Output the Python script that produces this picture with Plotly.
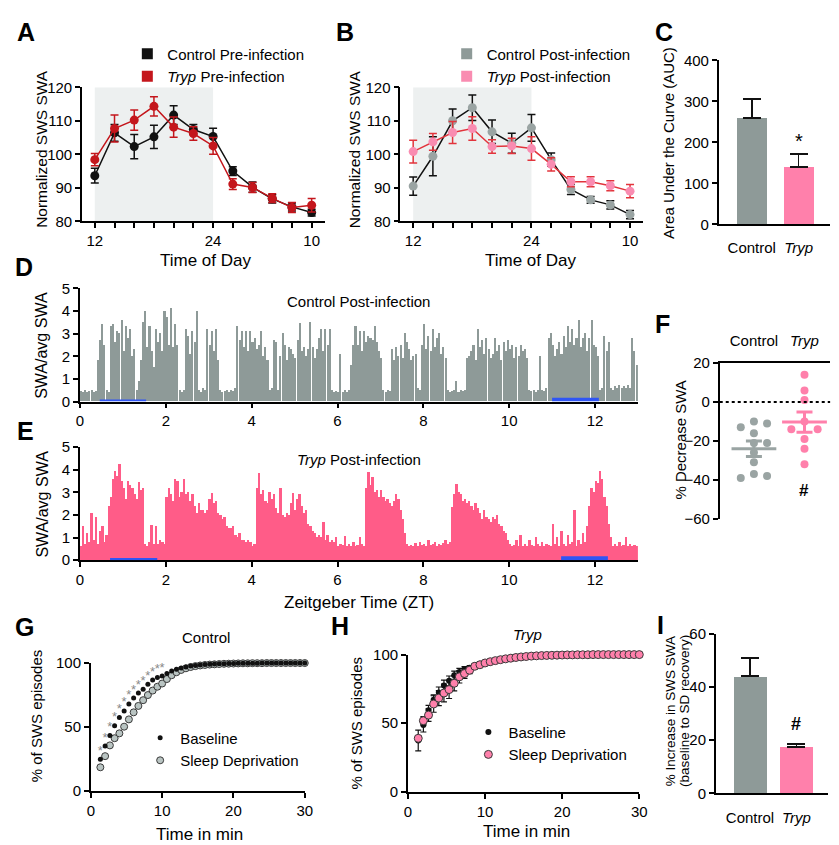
import plotly.graph_objects as go

# ---------------- data ----------------
hours = [12, 14, 16, 18, 20, 22, 24, 26, 28, 30, 32, 34]
hour_labels = ["12", "", "", "", "", "", "24", "", "", "", "", "10"]
dark_phase = [12, 24]

a_ctrl = [93.6, 106.4, 102.3, 105.2, 111.7, 107.4, 105.3, 95.0, 90.2, 86.7, 84.3, 82.6]
a_ctrl_err = [2.2, 2.5, 3.6, 3.5, 2.8, 1.5, 2.5, 1.3, 1.5, 1.2, 1.2, 1.0]
a_tryp = [98.4, 107.7, 110.2, 114.3, 108.1, 106.2, 102.5, 91.1, 90.1, 86.9, 84.1, 84.8]
a_tryp_err = [1.8, 4.0, 3.0, 2.9, 3.0, 2.0, 2.5, 1.6, 1.5, 1.3, 1.5, 2.0]

b_ctrl = [90.5, 99.4, 110.0, 113.9, 106.7, 103.3, 107.9, 98.4, 89.5, 86.4, 84.9, 82.0]
b_ctrl_err = [2.7, 5.8, 3.5, 3.8, 3.5, 3.0, 4.0, 2.0, 1.5, 1.0, 1.2, 1.2]
b_tryp = [100.8, 103.7, 106.5, 107.7, 102.3, 102.5, 101.7, 97.0, 91.8, 91.8, 90.6, 89.0]
b_tryp_err = [3.4, 2.5, 3.3, 3.5, 2.0, 2.3, 3.5, 2.0, 1.5, 1.5, 1.5, 2.0]

groups = ["Control", "<i>Tryp</i>"]
c_auc = [259, 140]
c_auc_err = [47, 32]

# D: Control post-infection SWA/avg SWA, 0.05 h bins, one list per hour
d_h0 = [0.45, 0.4, 0.5, 0.4, 0.45, 0.5, 0.4, 0.45, 1.8, 2.7, 3.4, 2.5, 0.5, 0.4, 3.3, 3.4, 2.6, 3.1, 3.0, 3.6]
d_h1 = [2.2, 3.3, 2.8, 3.2, 2.0, 2.3, 0.5, 0.9, 1.8, 3.5, 3.97, 2.4, 3.3, 2.2, 1.5, 3.2, 2.6, 3.0, 2.2, 4.0]
d_h2 = [3.7, 2.5, 4.1, 2.4, 3.4, 2.5, 0.5, 0.4, 0.5, 3.2, 2.9, 2.1, 3.1, 2.6, 4.0, 0.5, 0.4, 0.6, 0.5, 3.2]
d_h3 = [2.5, 3.1, 2.2, 3.2, 1.8, 0.5, 0.4, 0.45, 0.5, 0.4, 0.5, 0.45, 0.6, 3.3, 2.7, 3.1, 2.4, 3.1, 2.2, 3.1]
d_h4 = [2.6, 2.8, 2.3, 2.5, 3.1, 2.0, 2.4, 1.8, 0.5, 0.6, 2.7, 2.6, 0.5, 2.0, 3.0, 2.5, 1.8, 2.4, 2.3, 2.1]
d_h5 = [1.9, 2.7, 3.45, 2.2, 2.4, 2.0, 2.3, 3.5, 2.4, 1.9, 2.3, 2.8, 3.2, 2.2, 3.2, 2.5, 3.2, 0.5, 0.4, 0.45]
d_h6 = [0.4, 2.1, 0.4, 0.5, 0.4, 0.5, 1.6, 2.5, 3.3, 2.5, 3.1, 2.2, 3.1, 2.6, 2.9, 2.8, 2.7, 3.3, 2.6, 2.2]
d_h7 = [1.9, 0.5, 0.4, 0.5, 0.45, 2.3, 1.8, 2.4, 2.0, 2.5, 1.9, 3.0, 2.6, 2.3, 1.8, 2.0, 2.1, 0.6, 0.5, 2.5]
d_h8 = [3.4, 2.3, 2.9, 2.2, 3.2, 2.4, 2.8, 3.0, 2.1, 2.4, 1.9, 0.5, 0.4, 0.45, 0.5, 0.9, 0.4, 0.5, 0.45, 0.5]
d_h9 = [1.9, 2.0, 2.2, 2.5, 1.8, 3.2, 2.4, 2.7, 2.1, 2.8, 2.3, 1.9, 2.1, 2.8, 2.2, 2.5, 1.8, 2.6, 2.2, 2.7]
d_h10 = [2.3, 2.5, 1.9, 2.4, 2.0, 2.5, 2.2, 2.3, 1.9, 0.5, 0.45, 0.5, 0.4, 0.5, 2.0, 0.5, 0.45, 0.6, 2.8, 3.0]
d_h11 = [2.5, 2.0, 2.3, 2.6, 2.1, 2.9, 2.4, 3.3, 2.6, 3.2, 2.5, 2.8, 3.6, 2.4, 2.8, 3.0, 2.2, 2.8, 3.6, 2.5]
d_h12 = [2.4, 2.0, 0.5, 0.6, 2.9, 2.2, 2.6, 0.6, 0.5, 0.65, 0.6, 0.7, 0.6, 0.65, 0.6, 0.7, 0.6, 2.8, 2.2, 1.6]

# E: Tryp post-infection SWA/avg SWA, 0.05 h bins
e_h0 = [0.6, 1.5, 0.7, 1.2, 0.8, 2.07, 0.9, 1.9, 0.7, 1.3, 1.5, 0.8, 1.1, 2.4, 2.8, 3.6, 3.95, 3.7, 4.25, 3.5]
e_h1 = [3.2, 2.7, 3.5, 3.3, 3.2, 2.9, 2.7, 3.45, 3.1, 3.2, 0.7, 0.6, 0.8, 1.57, 0.7, 1.5, 0.7, 0.9, 0.8, 0.7]
e_h2 = [2.8, 3.2, 2.9, 2.6, 3.6, 3.5, 2.8, 3.0, 3.6, 2.9, 3.0, 2.6, 2.9, 2.4, 2.1, 2.5, 2.2, 2.2, 2.1, 2.2]
e_h3 = [2.7, 2.96, 2.5, 2.6, 2.1, 2.0, 1.8, 1.9, 1.5, 1.4, 1.4, 1.5, 1.1, 1.0, 1.2, 0.9, 0.9, 0.8, 0.9, 0.8]
e_h4 = [0.6, 0.7, 3.2, 3.87, 2.9, 3.1, 2.6, 2.5, 3.0, 2.7, 2.9, 2.3, 2.1, 3.2, 2.0, 1.9, 2.1, 2.0, 2.5, 2.96]
e_h5 = [2.2, 2.7, 2.9, 2.4, 2.1, 2.2, 1.6, 1.5, 1.3, 1.2, 1.0, 1.1, 1.0, 1.7, 0.9, 1.1, 0.8, 0.9, 0.8, 1.0]
e_h6 = [0.6, 0.7, 0.65, 1.05, 0.6, 0.7, 0.6, 0.8, 0.6, 0.65, 1.0, 0.7, 0.6, 3.2, 3.88, 3.3, 3.66, 3.0, 3.1, 2.8]
e_h7 = [3.1, 2.8, 2.6, 2.7, 2.5, 2.4, 2.6, 2.94, 2.7, 2.2, 1.8, 1.2, 0.7, 0.6, 0.65, 0.6, 0.75, 0.6, 0.8, 0.65]
e_h8 = [0.7, 0.6, 0.9, 0.65, 0.7, 0.8, 0.6, 0.7, 0.65, 0.75, 0.9, 0.7, 0.8, 2.36, 2.9, 3.38, 3.0, 2.94, 2.6, 2.7]
e_h9 = [2.5, 2.6, 2.4, 2.2, 2.5, 2.3, 2.07, 1.8, 2.2, 1.9, 1.8, 1.7, 1.9, 1.8, 2.0, 1.6, 1.5, 1.3, 1.2, 0.9]
e_h10 = [0.7, 0.6, 0.65, 0.9, 0.6, 1.1, 0.6, 0.7, 0.6, 0.9, 0.65, 0.6, 1.0, 0.7, 0.6, 0.8, 0.6, 0.7, 0.65, 0.6]
e_h11 = [1.6, 0.7, 1.0, 0.6, 1.3, 0.7, 0.6, 1.1, 0.7, 0.8, 2.2, 0.6, 0.9, 0.7, 1.2, 0.8, 1.5, 2.4, 3.2, 3.0]
e_h12 = [3.5, 3.4, 3.95, 3.6, 2.8, 2.4, 1.6, 1.0, 0.6, 0.7, 0.6, 0.8, 0.6, 0.65, 1.0, 0.6, 0.7, 0.6, 0.65, 0.6]

bin_hours = 0.05
zt_ticks = [0, 2, 4, 6, 8, 10, 12]
d_light_bars = [(0.46, 1.54), (11.0, 12.09)]
e_light_bars = [(0.70, 1.80), (11.21, 12.30)]

f_ctrl = [-10, -11, -13, -16, -21, -21, -26, -31, -37, -38, -39]
f_tryp = [14, 6, 1, -10, -14, -14, -19, -24, -32]
f_mean = [-24.0, -10.3]
f_sem = [4.0, 5.2]

g_base = [24.8, 35.2, 43.4, 51.0, 57.4, 62.6, 68.1, 72.7, 76.6, 79.6,
          83.5, 86.8, 88.8, 89.9, 91.9, 93.7, 95.2, 96.2, 97.0, 97.6,
          98.1, 98.5, 98.8, 99.0, 99.2, 99.4, 99.5, 99.6, 99.7, 99.8,
          99.8, 99.9, 99.9, 99.9, 100, 100, 100, 100, 100, 100,
          100, 100, 100, 100]
g_sd = [18.6, 27.3, 35.7, 41.3, 45.1, 50.3, 56.0, 61.5, 66.5, 71.0,
        75.0, 78.5, 81.5, 84.0, 87.5, 90.5, 92.8, 94.6, 95.9, 96.9,
        97.6, 98.1, 98.5, 98.8, 99.0, 99.2, 99.4, 99.5, 99.6, 99.7,
        99.8, 99.8, 99.9, 99.9, 99.9, 100, 100, 100, 100, 100,
        100, 100, 100, 100]
g_sig_idx = [0, 1, 2, 3, 4, 5, 6, 7, 8, 9, 10, 11, 12, 13]

h_base = [37.4, 48.6, 59.5, 67.1, 72.4, 77.4, 80.9, 85.0, 87.4, 89.3,
          90.5, 92.2, 93.4, 94.3, 95.2, 96.0, 96.7, 97.3, 97.8, 98.2,
          98.5, 98.8, 99.0, 99.2, 99.4, 99.5, 99.6, 99.7, 99.8, 99.8,
          99.9, 99.9, 99.9, 100, 100, 100, 100, 100, 100, 100,
          100, 100, 100, 100]
h_base_err = [7.6, 5.0, 3.5, 3.5, 4.0, 4.0, 3.5, 3.0, 2.5, 2.0,
              1.5, 1.2, 1.0, 0.8, 0.6, 0.5, 0.4, 0.3, 0.3, 0.2,
              0.2, 0.2, 0.1, 0.1, 0, 0, 0, 0, 0, 0,
              0, 0, 0, 0, 0, 0, 0, 0, 0, 0,
              0, 0, 0, 0]
h_sd = [39.0, 51.8, 55.9, 64.0, 68.3, 72.0, 74.5, 79.1, 83.8, 86.2,
        88.6, 91.5, 92.6, 93.9, 94.8, 95.6, 96.3, 96.9, 97.4, 97.9,
        98.3, 98.6, 98.9, 99.1, 99.3, 99.4, 99.5, 99.6, 99.7, 99.8,
        99.8, 99.9, 99.9, 99.9, 100, 100, 100, 100, 100, 100,
        100, 100, 100, 100]
h_sd_err = [2.0, 3.0, 4.5, 6.0, 5.5, 6.5, 6.5, 5.5, 4.5, 3.5,
            2.5, 2.0, 1.5, 1.2, 1.0, 0.8, 0.6, 0.5, 0.4, 0.3,
            0.3, 0.2, 0.2, 0, 0, 0, 0, 0, 0, 0,
            0, 0, 0, 0, 0, 0, 0, 0, 0, 0,
            0, 0, 0, 0]

i_increase = [44.0, 17.4]
i_increase_err = [6.8, 1.2]

# ---------------- derived ----------------
d_vals = d_h0 + d_h1 + d_h2 + d_h3 + d_h4 + d_h5 + d_h6 + d_h7 + d_h8 + d_h9 + d_h10 + d_h11 + d_h12
e_vals = e_h0 + e_h1 + e_h2 + e_h3 + e_h4 + e_h5 + e_h6 + e_h7 + e_h8 + e_h9 + e_h10 + e_h11 + e_h12
d_t = [round(bin_hours * (k + 0.5), 4) for k in range(len(d_vals))]
e_t = [round(bin_hours * (k + 0.5), 4) for k in range(len(e_vals))]
minutes = [round(k * 2 / 3, 3) for k in range(2, 2 + len(g_base))]

# ---------------- style ----------------
W, H = 839, 845
FONT = "Liberation Sans, Arial, Helvetica, sans-serif"
BLACK = "#111111"
RED = "#c4161c"
GRAY = "#8e9a98"
GRAY_PT = "#9aa4a3"
PINK = "#ff80ab"
PINK_PT = "#f98cb1"
PINK_LINE = "#e2343c"
E_PINK = "#ff5c88"
BLUE = "#2f55f5"
SHADE = "#edf0f0"


def xd(a, b):
    return [a / W, b / W]


def yd(top, bottom):
    return [1 - bottom / H, 1 - top / H]


def px(x):
    return x / W


def py(y):
    return 1 - y / H


def ax(domain, rng, **kw):
    d = dict(domain=domain, range=rng, showline=True, linecolor="black", linewidth=1.6,
             ticks="outside", ticklen=5, tickwidth=1.6, tickcolor="black",
             showgrid=False, zeroline=False, tickfont=dict(size=15, color="black"),
             fixedrange=True)
    d.update(kw)
    return d


def swarm(values, center, step, min_gap):
    placed, xs = [], []
    for v in values:
        for k in [0, 1, -1, 2, -2, 3, -3]:
            if all(not (pk == k and abs(pv - v) < min_gap) for pk, pv in placed):
                placed.append((k, v))
                xs.append(center + k * step)
                break
    return xs


fig = go.Figure()

# ---- A ----
fig.add_trace(go.Scatter(x=hours, y=a_ctrl, mode="lines+markers", xaxis="x", yaxis="y",
                         line=dict(color=BLACK, width=1.5), marker=dict(size=9, color=BLACK),
                         error_y=dict(type="data", array=a_ctrl_err, color=BLACK, thickness=1.5, width=4),
                         showlegend=False, cliponaxis=False))
fig.add_trace(go.Scatter(x=hours, y=a_tryp, mode="lines+markers", xaxis="x", yaxis="y",
                         line=dict(color=RED, width=1.5), marker=dict(size=9, color=RED),
                         error_y=dict(type="data", array=a_tryp_err, color=RED, thickness=1.5, width=4),
                         showlegend=False, cliponaxis=False))
fig.add_trace(go.Scatter(x=[None], y=[None], mode="markers", xaxis="x", yaxis="y",
                         marker=dict(symbol="square", size=11, color=BLACK),
                         name="Control Pre-infection", legend="legend"))
fig.add_trace(go.Scatter(x=[None], y=[None], mode="markers", xaxis="x", yaxis="y",
                         marker=dict(symbol="square", size=11, color=RED),
                         name="<i>Tryp</i> Pre-infection", legend="legend"))

# ---- B ----
fig.add_trace(go.Scatter(x=hours, y=b_ctrl, mode="lines+markers", xaxis="x2", yaxis="y2",
                         line=dict(color=BLACK, width=1.5), marker=dict(size=9, color=GRAY_PT),
                         error_y=dict(type="data", array=b_ctrl_err, color=BLACK, thickness=1.5, width=4),
                         showlegend=False, cliponaxis=False))
fig.add_trace(go.Scatter(x=hours, y=b_tryp, mode="lines+markers", xaxis="x2", yaxis="y2",
                         line=dict(color=PINK_LINE, width=1.5), marker=dict(size=9, color=PINK_PT),
                         error_y=dict(type="data", array=b_tryp_err, color=PINK_LINE, thickness=1.5, width=4),
                         showlegend=False, cliponaxis=False))
fig.add_trace(go.Scatter(x=[None], y=[None], mode="markers", xaxis="x2", yaxis="y2",
                         marker=dict(symbol="square", size=11, color=GRAY),
                         name="Control Post-infection", legend="legend2"))
fig.add_trace(go.Scatter(x=[None], y=[None], mode="markers", xaxis="x2", yaxis="y2",
                         marker=dict(symbol="square", size=11, color=PINK_PT),
                         name="<i>Tryp</i> Post-infection", legend="legend2"))

# ---- C ----
fig.add_trace(go.Bar(x=[0, 1], y=c_auc, width=0.65, xaxis="x3", yaxis="y3",
                     marker=dict(color=[GRAY, PINK], line=dict(width=0)),
                     error_y=dict(type="data", symmetric=False, array=c_auc_err, arrayminus=[0, 0],
                                  color=BLACK, thickness=1.5, width=9),
                     showlegend=False))

# ---- D / E ----
fig.add_trace(go.Bar(x=d_t, y=d_vals, width=bin_hours * 0.72, xaxis="x4", yaxis="y4",
                     marker=dict(color=GRAY, line=dict(width=0)), showlegend=False))
fig.add_trace(go.Bar(x=e_t, y=e_vals, width=bin_hours * 0.9, xaxis="x5", yaxis="y5",
                     marker=dict(color=E_PINK, line=dict(width=0)), showlegend=False))

# ---- F ----
fc = sorted(f_ctrl, reverse=True)
ft = sorted(f_tryp, reverse=True)
fig.add_trace(go.Scatter(x=swarm(fc, 0, 0.26, 4.5), y=fc, mode="markers", xaxis="x6", yaxis="y6",
                         marker=dict(size=8, color=GRAY_PT), showlegend=False, cliponaxis=False))
fig.add_trace(go.Scatter(x=swarm(ft, 1, 0.26, 4.5), y=ft, mode="markers", xaxis="x6", yaxis="y6",
                         marker=dict(size=8, color=PINK), showlegend=False, cliponaxis=False))
for i, col in enumerate([GRAY_PT, PINK]):
    fig.add_trace(go.Scatter(x=[i], y=[f_mean[i]], mode="markers", xaxis="x6", yaxis="y6",
                             marker=dict(symbol="line-ew", size=32, color=col, line=dict(width=3, color=col)),
                             error_y=dict(type="data", array=[f_sem[i]], color=col, thickness=3, width=8),
                             showlegend=False, cliponaxis=False))

# ---- G ----
fig.add_trace(go.Scatter(x=minutes, y=g_sd, mode="markers", xaxis="x7", yaxis="y7",
                         marker=dict(size=7, color="#b9c4c2", line=dict(width=1, color="#3a3a3a")),
                         name="Sleep Deprivation", legend="legend3", cliponaxis=False))
fig.add_trace(go.Scatter(x=minutes, y=g_base, mode="markers", xaxis="x7", yaxis="y7",
                         marker=dict(size=5, color=BLACK),
                         name="Baseline", legend="legend3", cliponaxis=False))
fig.add_trace(go.Scatter(x=[minutes[i] for i in g_sig_idx], y=[g_base[i] + 6 for i in g_sig_idx],
                         mode="text", text=["*"] * len(g_sig_idx), xaxis="x7", yaxis="y7",
                         textfont=dict(size=13, color="#8a8a8a", family=FONT),
                         showlegend=False, cliponaxis=False))

# ---- H ----
fig.add_trace(go.Scatter(x=minutes, y=h_base, mode="markers", xaxis="x8", yaxis="y8",
                         marker=dict(size=6, color=BLACK),
                         error_y=dict(type="data", array=h_base_err, color=BLACK, thickness=1.2, width=3),
                         name="Baseline", legend="legend4", cliponaxis=False))
fig.add_trace(go.Scatter(x=minutes, y=h_sd, mode="markers", xaxis="x8", yaxis="y8",
                         marker=dict(size=8, color=PINK, line=dict(width=1, color="#3a3a3a")),
                         error_y=dict(type="data", array=h_sd_err, color=BLACK, thickness=1.2, width=3),
                         name="Sleep Deprivation", legend="legend4", cliponaxis=False))

# ---- I ----
fig.add_trace(go.Bar(x=[0, 1], y=i_increase, width=0.72, xaxis="x9", yaxis="y9",
                     marker=dict(color=[GRAY, PINK], line=dict(width=0)),
                     error_y=dict(type="data", symmetric=False, array=i_increase_err, arrayminus=[0, 0],
                                  color=BLACK, thickness=1.5, width=9),
                     showlegend=False))

# ---------------- layout ----------------
bar_ticks = dict(tickvals=[0, 1], ticktext=groups, ticks="outside", ticklen=9,
                 tickcolor="rgba(0,0,0,0)")
layout = dict(
    xaxis=ax(xd(71, 318), [10.7, 35.4], anchor="y", tickvals=hours, ticktext=hour_labels),
    yaxis=ax(yd(71.7, 208.5), [80, 120], anchor="x", dtick=10),
    xaxis2=ax(xd(394, 640), [10.7, 35.3], anchor="y2", tickvals=hours, ticktext=hour_labels),
    yaxis2=ax(yd(71.7, 208.5), [80, 120], anchor="x2", dtick=10),
    xaxis3=ax(xd(717, 830), [-0.705, 1.674], anchor="y3", **bar_ticks),
    yaxis3=ax(yd(44.3, 211.7), [0, 400], anchor="x3", dtick=100),
    xaxis4=ax(xd(69, 635), [0, 13], anchor="y4", tickvals=zt_ticks),
    yaxis4=ax(yd(277, 392.5), [0, 5], anchor="x4", dtick=1),
    xaxis5=ax(xd(69, 635), [0, 13], anchor="y5", tickvals=zt_ticks),
    yaxis5=ax(yd(439, 554.3), [0, 5], anchor="x5", dtick=1),
    xaxis6=ax(xd(718, 830), [-0.676, 1.507], anchor="y6", side="top", **bar_ticks),
    yaxis6=ax(yd(353.3, 512), [-60, 20], anchor="x6", dtick=20),
    xaxis7=ax(xd(80, 297), [0, 30], anchor="y7", dtick=10),
    yaxis7=ax(yd(659.3, 790), [0, 100], anchor="x7", dtick=50),
    xaxis8=ax(xd(401.7, 636.4), [0, 30], anchor="y8", dtick=10),
    yaxis8=ax(yd(650.7, 790.7), [0, 100], anchor="x8", dtick=50),
    xaxis9=ax(xd(714, 828), [-0.737, 1.684], anchor="y9", **dict(bar_ticks, ticklen=10)),
    yaxis9=ax(yd(629.3, 792.3), [0, 60], anchor="x9", dtick=20),
)

leg = dict(xanchor="left", yanchor="top", font=dict(size=15, color="black", family=FONT),
           bgcolor="rgba(0,0,0,0)", itemclick=False, itemdoubleclick=False, tracegroupgap=0)
layout["legend"] = dict(leg, x=px(117), y=py(21))
layout["legend2"] = dict(leg, x=px(441), y=py(21))
layout["legend3"] = dict(leg, x=px(130), y=py(719), traceorder="reversed")
layout["legend4"] = dict(leg, x=px(463), y=py(713))

shapes = []
for xa, ya in [("x", "y"), ("x2", "y2")]:
    shapes.append(dict(type="rect", xref=xa, yref=ya, x0=dark_phase[0], x1=dark_phase[1],
                       y0=80, y1=120, fillcolor=SHADE, line=dict(width=0), layer="below"))
for (a, b), h in zip(d_light_bars, [0.09, 0.17]):
    shapes.append(dict(type="rect", xref="x4", yref="y4", x0=a, x1=b, y0=0, y1=h,
                       fillcolor=BLUE, line=dict(width=0), layer="above"))
for (a, b), h in zip(e_light_bars, [0.09, 0.17]):
    shapes.append(dict(type="rect", xref="x5", yref="y5", x0=a, x1=b, y0=0, y1=h,
                       fillcolor=BLUE, line=dict(width=0), layer="above"))
shapes.append(dict(type="line", xref="x6 domain", yref="y6", x0=0, x1=1, y0=0, y1=0,
                   line=dict(color="black", width=2, dash="dot")))

ann = []


def text(x, y, s, size=16, angle=0, bold=False, **kw):
    ann.append(dict(x=px(x), y=py(y), xref="paper", yref="paper", text=f"<b>{s}</b>" if bold else s,
                    showarrow=False, textangle=angle, font=dict(size=size, color="black", family=FONT),
                    xanchor="center", yanchor="middle", **kw))


for letter, (x, y) in {"A": (14, 15), "B": (338, 15), "C": (661, 15), "D": (12, 255),
                       "E": (14, 422), "F": (660, 313), "G": (13, 623), "H": (333, 622),
                       "I": (658, 620)}.items():
    text(x, y, letter, size=25, bold=True)

text(30, 135, "Normalized SWS SWA", 15.5, -90)
text(197, 248, "Time of Day", 17)
text(347, 135, "Normalized SWS SWA", 15.5, -90)
text(527, 248, "Time of Day", 17)
text(666, 128, "Area Under the Curve (AUC)", 15, -90)
text(30, 335, "SWA/avg SWA", 16, -90)
text(352, 290, "Control Post-infection", 15)
text(30, 497, "SWA/avg SWA", 16, -90)
text(352, 452, "<i>Tryp</i> Post-infection", 15)
text(352, 598, "Zeitgeber Time (ZT)", 17)
text(678, 432, "% Decrease SWA", 15, -90)
text(25, 713, "% of SWS episodes", 15, -90)
text(190, 834, "Time in min", 17)
text(197, 633, "Control", 15)
text(350, 720, "% of SWS episodes", 15, -90)
text(522, 831, "Time in min", 17)
text(523, 630, "<i>Tryp</i>", 15)
text(668, 708, "% Increase in SWS SWA", 13.5, -90)
text(683, 708, "(baseline to SD recovery)", 13.5, -90)

ann.append(dict(x=1, y=c_auc[1] + c_auc_err[1], xref="x3", yref="y3", text="*", showarrow=False,
                yanchor="bottom", font=dict(size=20, color="black", family=FONT)))
ann.append(dict(x=1, y=min(f_tryp), xref="x6", yref="y6", text="<b>#</b>", showarrow=False,
                yshift=-26, font=dict(size=17, color="black", family=FONT)))
ann.append(dict(x=1, y=i_increase[1] + i_increase_err[1], xref="x9", yref="y9", text="<b>#</b>",
                showarrow=False, yanchor="bottom", yshift=8, font=dict(size=18, color="black", family=FONT)))

fig.update_layout(**layout)
fig.update_layout(width=W, height=H, margin=dict(l=0, r=0, t=0, b=0),
                  plot_bgcolor="white", paper_bgcolor="white", hovermode=False,
                  font=dict(family=FONT, color="black"), shapes=shapes, annotations=ann,
                  bargap=0, showlegend=True)
fig.write_html("out.html")
